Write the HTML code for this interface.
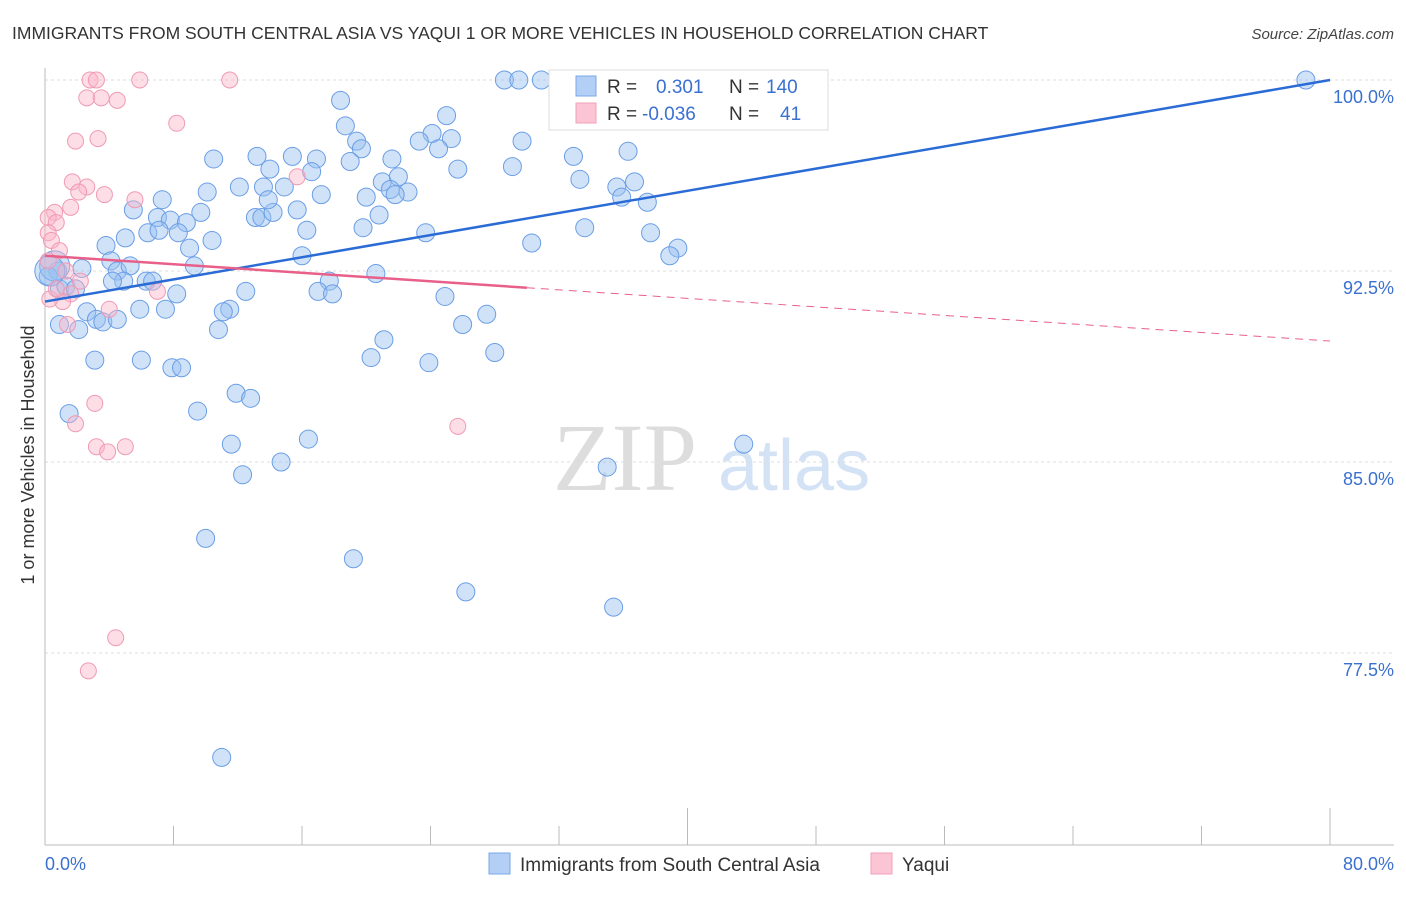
<!DOCTYPE html>
<html><head><meta charset="utf-8"><style>
body{margin:0;background:#fff;width:1406px;height:892px;overflow:hidden;font-family:"Liberation Sans",sans-serif}
</style></head><body>
<svg id="chart" width="1406" height="892" xmlns="http://www.w3.org/2000/svg">
<text x="12" y="39" font-size="17.5" fill="#333">IMMIGRANTS FROM SOUTH CENTRAL ASIA VS YAQUI 1 OR MORE VEHICLES IN HOUSEHOLD CORRELATION CHART</text>
<text x="1394" y="39" font-size="15" fill="#444" font-style="italic" text-anchor="end">Source: ZipAtlas.com</text>
<g><text x="553" y="490" font-size="96" fill="#ddd" font-family="Liberation Serif">ZIP</text><text x="718" y="490" font-size="72" fill="#d4e2f5">atlas</text></g>
<text transform="translate(34,455) rotate(-90)" font-size="18" fill="#333" text-anchor="middle">1 or more Vehicles in Household</text>
<g id="grid"></g><g id="ticks"></g><g id="pts"></g><g id="lines"></g>
<g>
<rect x="549" y="70" width="279" height="60" fill="#fff" stroke="#ddd"/>
<rect x="576" y="76" width="20" height="20" fill="#b3cff5" stroke="#7aa7e6"/>
<rect x="576" y="103" width="20" height="20" fill="#fcc5d5" stroke="#f0a0b8"/>
<text x="607" y="93" font-size="19" fill="#333">R = </text><text x="656" y="93" font-size="19" fill="#3a70d0">0.301</text>
<text x="729" y="93" font-size="19" fill="#333">N = </text><text x="766" y="93" font-size="19" fill="#3a70d0">140</text>
<text x="607" y="120" font-size="19" fill="#333">R = </text><text x="642" y="120" font-size="19" fill="#3a70d0">-0.036</text>
<text x="729" y="120" font-size="19" fill="#333">N = </text><text x="780" y="120" font-size="19" fill="#3a70d0">41</text>
</g>
<g>
<rect x="489" y="853" width="21" height="21" fill="#b3cff5" stroke="#7aa7e6"/>
<text x="520" y="871" font-size="19" fill="#333">Immigrants from South Central Asia</text>
<rect x="871" y="853" width="21" height="21" fill="#fcc5d5" stroke="#f0a0b8"/>
<text x="902" y="871" font-size="19" fill="#333">Yaqui</text>
</g>
<text x="45" y="870" font-size="18" fill="#3a70d0">0.0%</text>
<text x="1394" y="870" font-size="18" fill="#3a70d0" text-anchor="end">80.0%</text>
</svg>
<script>
const yTicks=[100,92.5,85,77.5];
const yTickLabels=["100.0%","92.5%","85.0%","77.5%"];
const xTicks=[0,8,16,24,32,40,48,56,64,72,80];
const blueX=[28.6,29.5,30.9,32.0,36.6,41.5,78.5,18.4,25.0,18.7,19.4,24.1,25.3,23.3,24.5,19.7,21.6,25.7,29.1,29.7,32.9,36.3,10.5,13.2,15.4,16.9,14.0,16.6,19.0,21.0,22.0,21.5,22.6,21.8,20.0,17.2,12.1,13.6,14.9,10.1,33.3,35.6,36.7,35.9,37.5,7.3,5.5,9.7,7.0,7.8,8.8,13.1,13.5,14.2,15.7,13.9,20.8,33.6,23.7,30.3,37.7,39.4,38.9,16.3,19.8,5.0,6.4,7.1,8.3,10.4,3.8,9.0,16.0,4.1,4.5,5.3,9.3,2.3,6.3,6.7,4.9,4.2,0.8,0.2,0.9,1.3,1.9,8.2,12.5,17.7,17.0,17.9,20.6,24.9,11.5,11.1,5.9,7.5,2.6,3.2,3.6,4.5,2.1,10.8,26.0,27.5,21.1,28.0,3.1,6.0,7.9,8.5,20.3,23.9,11.9,12.8,9.5,1.5,11.6,16.4,43.5,14.7,12.3,35.0,10.0,19.2,26.2,35.4,11.0,0.6,0.3,0.9];
const blueY=[100,100,100,99.9,100,100,100,99.2,98.6,98.2,97.6,97.9,97.7,97.6,97.3,97.3,96.9,96.5,96.6,97.6,97.0,97.2,96.9,97.0,97.0,96.9,96.5,96.4,96.8,96.0,96.2,95.7,95.6,95.5,95.4,95.5,95.8,95.8,95.8,95.6,96.1,95.8,96.0,95.4,95.2,95.3,94.9,94.8,94.6,94.5,94.4,94.6,94.6,94.8,94.9,95.3,94.7,94.2,94.0,93.6,94.0,93.4,93.1,94.1,94.2,93.8,94.0,94.1,94.0,93.7,93.5,93.4,93.1,92.9,92.5,92.7,92.7,92.6,92.1,92.1,92.1,92.1,92.5,92.3,91.8,91.9,91.8,91.6,91.7,92.1,91.7,91.6,92.4,91.5,91.0,90.9,91.0,91.0,90.9,90.6,90.5,90.6,90.2,90.2,90.4,90.8,89.8,89.3,89.0,89.0,88.7,88.7,89.1,88.9,87.7,87.5,87.0,86.9,85.7,85.9,85.7,85.0,84.5,84.8,82.0,81.2,79.9,79.3,73.4,92.7,92.5,90.4];
const blueBig=[129,130];
const pinkX=[2.8,3.2,5.9,11.5,2.6,3.5,4.5,8.2,1.9,3.3,1.7,2.6,2.1,3.7,5.6,1.6,0.6,0.2,0.7,0.2,0.4,0.9,0.2,1.3,2.2,1.6,1.1,4.0,7.0,15.7,1.4,3.1,1.9,3.2,3.9,5.0,25.7,4.4,2.7,0.3,0.7];
const pinkY=[100,100,100,100,99.3,99.3,99.2,98.3,97.6,97.7,96.0,95.8,95.6,95.5,95.3,95.0,94.8,94.6,94.4,94.0,93.7,93.3,92.9,92.5,92.1,91.6,91.3,91.0,91.7,96.2,90.4,87.3,86.5,85.6,85.4,85.6,86.4,78.1,76.8,91.4,91.8];
const blueTrend=[91.3,100];   // y at x=0 and x=80
const pinkTrend=[93.1,89.75]; // y at x=0 and x=80
const pinkSolidEnd=30;
const NS="http://www.w3.org/2000/svg";
const X=v=>45+v/80*1285, Y=v=>80+(100-v)/7.5*191;
function mk(tag,attrs,parent){const e=document.createElementNS(NS,tag);for(const k in attrs)e.setAttribute(k,attrs[k]);parent.appendChild(e);return e;}
const grid=document.getElementById('grid'),ticks=document.getElementById('ticks'),pts=document.getElementById('pts'),lines=document.getElementById('lines');
yTicks.forEach((t,i)=>{
 const l=mk('line',{x1:45,x2:1394,y1:Y(t),y2:Y(t),stroke:'#ddd','stroke-dasharray':'3,3'},grid);
 
 
 const tx=mk('text',{x:1394,y:Y(t)+23,'font-size':18,fill:'#3a70d0','text-anchor':'end'},grid);
 tx.textContent=yTickLabels[i];
 
 
});
const ax=mk('line',{x1:45,x2:45,y1:68,y2:845,stroke:'#bbb'},ticks);


const bx=mk('line',{x1:45,x2:1394,y1:845,y2:845,stroke:'#bbb'},ticks);


xTicks.forEach((t,i)=>{
 const tall=(i===5||i===10);
 const l=mk('line',{x1:X(t),x2:X(t),y1:tall?808:826,y2:845,stroke:'#bbb'},ticks);
 
 
});
blueX.forEach((v,i)=>{
 const big=blueBig.includes(i);
 const c=mk('circle',{cx:X(v),cy:Y(blueY[i]),r:big?15:9,fill:'rgba(150,190,240,0.45)',stroke:'#6a9ee6','stroke-width':1},pts);
 
 
});
pinkX.forEach((v,i)=>{
 const c=mk('circle',{cx:X(v),cy:Y(pinkY[i]),r:8,fill:'rgba(250,180,200,0.45)',stroke:'#f09ab4','stroke-width':1},pts);
 
 
});
const bl=mk('line',{x1:X(0),y1:Y(blueTrend[0]),x2:X(80),y2:Y(blueTrend[1]),stroke:'#2a6bd6','stroke-width':2.5},lines);


const py=x=>pinkTrend[0]+(pinkTrend[1]-pinkTrend[0])*x/80;
const pl=mk('line',{x1:X(0),y1:Y(py(0)),x2:X(pinkSolidEnd),y2:Y(py(pinkSolidEnd)),stroke:'#e8608a','stroke-width':2.5},lines);


const pd=mk('line',{x1:X(pinkSolidEnd),y1:Y(py(pinkSolidEnd)),x2:X(80),y2:Y(py(80)),stroke:'#e8608a','stroke-width':1,'stroke-dasharray':'8,6'},lines);


</script>
</body></html>
